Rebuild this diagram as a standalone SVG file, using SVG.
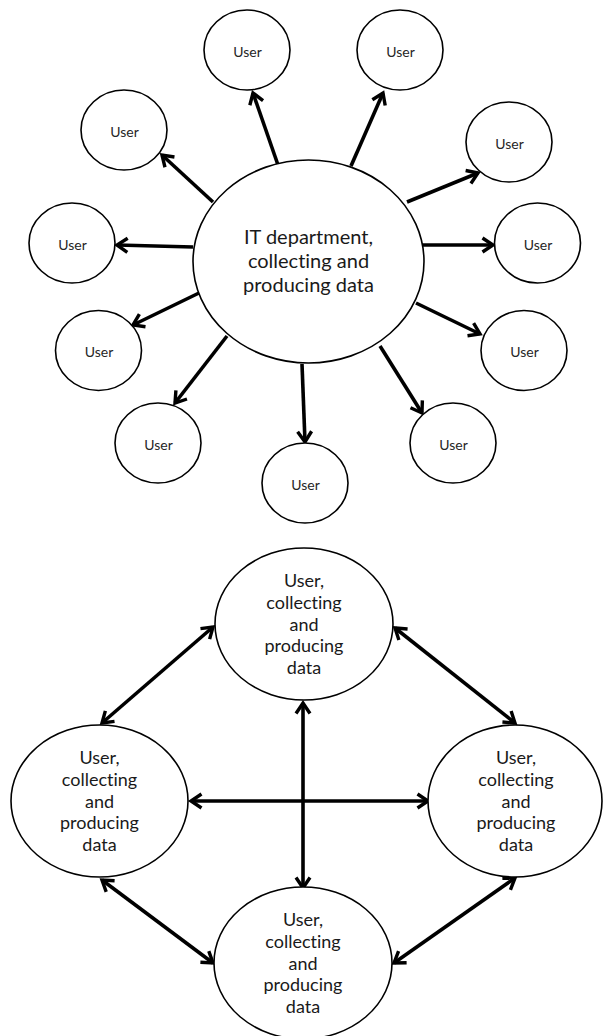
<svg xmlns="http://www.w3.org/2000/svg" width="603" height="1036" viewBox="0 0 603 1036">
<style>
text{font-variant-ligatures:none}
.node{fill:#fff;stroke:#000;stroke-width:1.6}
.u{font-family:Lato,"Open Sans",sans-serif;font-size:14px;fill:#262626;text-anchor:middle}
.big{font-family:Lato,"Open Sans",sans-serif;font-size:20px;fill:#1a1a1a;text-anchor:middle}
.mid{font-family:Lato,"Open Sans",sans-serif;font-size:18px;fill:#1a1a1a;text-anchor:middle}
.c{stroke:#000;stroke-width:3.6;fill:none}
.one{marker-end:url(#ah)}
.two{marker-start:url(#ah);marker-end:url(#ah)}
</style>
<defs>
<marker id="ah" viewBox="0 0 14 14" markerUnits="userSpaceOnUse" markerWidth="14" markerHeight="14" refX="12" refY="7" orient="auto-start-reverse" overflow="visible">
<path d="M1.5,0 L12,7 L1.5,14" fill="none" stroke="#000" stroke-width="3.4" stroke-linejoin="miter"/>
</marker>
</defs>
<rect width="603" height="1036" fill="#fff"/>

<g id="connectors">
<line class="c one" x1="278" y1="165" x2="253" y2="93"/>
<line class="c one" x1="213" y1="202" x2="162" y2="155"/>
<line class="c one" x1="193" y1="247" x2="117" y2="245"/>
<line class="c one" x1="199" y1="293" x2="133" y2="325"/>
<line class="c one" x1="227" y1="336" x2="175" y2="403"/>
<line class="c one" x1="302" y1="364" x2="305" y2="442"/>
<line class="c one" x1="380" y1="346" x2="422" y2="413"/>
<line class="c one" x1="416" y1="303" x2="480" y2="334"/>
<line class="c one" x1="422" y1="245" x2="493" y2="245"/>
<line class="c one" x1="407" y1="202" x2="478" y2="173"/>
<line class="c one" x1="351" y1="166" x2="383" y2="93"/>

<line class="c two" x1="102" y1="723" x2="213" y2="627"/>
<line class="c two" x1="395" y1="628" x2="515" y2="723"/>
<line class="c two" x1="303" y1="703" x2="303" y2="888"/>
<line class="c two" x1="191" y1="801" x2="428" y2="801"/>
<line class="c two" x1="102" y1="880" x2="213" y2="963"/>
<line class="c two" x1="515" y1="878" x2="394" y2="963"/>
</g>

<g id="it">
<ellipse class="node" cx="308.5" cy="261.5" rx="115.5" ry="101.5"/>
<text class="big" x="308.5" y="244">IT department,</text>
<text class="big" x="308.5" y="268">collecting and</text>
<text class="big" x="308.5" y="292">producing data</text>
</g>

<g id="user1"><ellipse class="node" cx="247" cy="50" rx="43" ry="40"/><text class="u" x="247.5" y="56.5">User</text></g>
<g id="user2"><ellipse class="node" cx="400" cy="50" rx="43" ry="40"/><text class="u" x="400.5" y="56.5">User</text></g>
<g id="user3"><ellipse class="node" cx="124" cy="130" rx="43" ry="40"/><text class="u" x="124.5" y="136.5">User</text></g>
<g id="user4"><ellipse class="node" cx="509" cy="142" rx="43" ry="40"/><text class="u" x="509.5" y="148.5">User</text></g>
<g id="user5"><ellipse class="node" cx="72" cy="243" rx="43" ry="40"/><text class="u" x="72.5" y="249.5">User</text></g>
<g id="user6"><ellipse class="node" cx="537.5" cy="243" rx="43" ry="40"/><text class="u" x="538" y="249.5">User</text></g>
<g id="user7"><ellipse class="node" cx="98.5" cy="350.5" rx="43" ry="40"/><text class="u" x="99" y="357">User</text></g>
<g id="user8"><ellipse class="node" cx="524" cy="350.5" rx="43" ry="40"/><text class="u" x="524.5" y="357">User</text></g>
<g id="user9"><ellipse class="node" cx="158" cy="443" rx="43" ry="40"/><text class="u" x="158.5" y="449.5">User</text></g>
<g id="user10"><ellipse class="node" cx="453" cy="443" rx="43" ry="40"/><text class="u" x="453.5" y="449.5">User</text></g>
<g id="user11"><ellipse class="node" cx="305" cy="483" rx="43" ry="40"/><text class="u" x="305.5" y="489.5">User</text></g>

<g id="peer-top">
<ellipse class="node" cx="304" cy="624" rx="89" ry="76"/>
<text class="mid" x="304" y="587">User,</text>
<text class="mid" x="304" y="609">collecting</text>
<text class="mid" x="304" y="630.5">and</text>
<text class="mid" x="304" y="652">producing</text>
<text class="mid" x="304" y="674">data</text>
</g>
<g id="peer-left">
<ellipse class="node" cx="99.5" cy="801" rx="88.5" ry="76"/>
<text class="mid" x="99.5" y="764">User,</text>
<text class="mid" x="99.5" y="786">collecting</text>
<text class="mid" x="99.5" y="807.5">and</text>
<text class="mid" x="99.5" y="829">producing</text>
<text class="mid" x="99.5" y="851">data</text>
</g>
<g id="peer-right">
<ellipse class="node" cx="515" cy="801" rx="87" ry="76"/>
<text class="mid" x="516" y="764">User,</text>
<text class="mid" x="516" y="786">collecting</text>
<text class="mid" x="516" y="807.5">and</text>
<text class="mid" x="516" y="829">producing</text>
<text class="mid" x="516" y="851">data</text>
</g>
<g id="peer-bottom">
<ellipse class="node" cx="303" cy="963" rx="89" ry="76"/>
<text class="mid" x="303" y="926">User,</text>
<text class="mid" x="303" y="948">collecting</text>
<text class="mid" x="303" y="969.5">and</text>
<text class="mid" x="303" y="991">producing</text>
<text class="mid" x="303" y="1013">data</text>
</g>
</svg>
